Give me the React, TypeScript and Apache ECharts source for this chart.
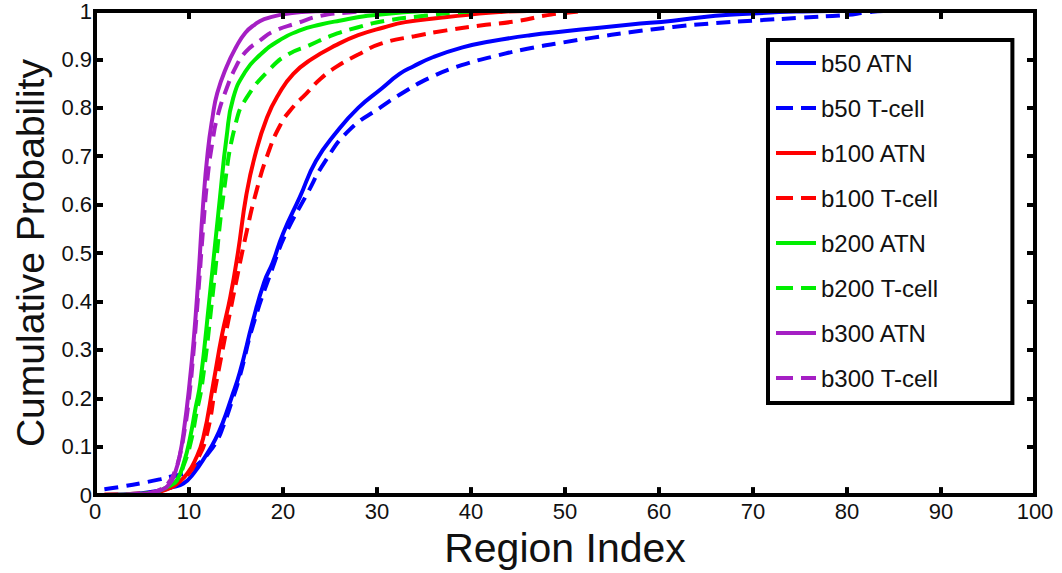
import React, { useEffect, useRef } from "react";
import * as echarts from "echarts";

const seriesNames = [
  "b50 ATN",
  "b50 T-cell",
  "b100 ATN",
  "b100 T-cell",
  "b200 ATN",
  "b200 T-cell",
  "b300 ATN",
  "b300 T-cell",
];

const b50ATN: [number, number][] = [
  [1, 0], [5, 0.004], [7, 0.01], [8, 0.015], [9.4, 0.024], [10.5, 0.045], [11.9, 0.085],
  [12.8, 0.115], [13.6, 0.15], [14.5, 0.2], [15.4, 0.253], [16.8, 0.36], [18, 0.44],
  [18.9, 0.48], [20, 0.54], [21.8, 0.616], [23.5, 0.69], [25.7, 0.75], [28, 0.8],
  [30.5, 0.84], [32.4, 0.87], [33.8, 0.885], [36, 0.905], [39.1, 0.925], [42, 0.937],
  [46.3, 0.95], [50, 0.958], [53.4, 0.965], [57, 0.972], [61.5, 0.98], [66, 0.99],
  [70, 0.995], [75, 0.999], [78, 1], [100, 1],
];

const b50Tcell: [number, number][] = [
  [1, 0.012], [3, 0.018], [5, 0.025], [7, 0.033], [8, 0.038], [9, 0.042], [10, 0.05],
  [11, 0.065], [12, 0.085], [13, 0.113], [13.6, 0.14], [14.5, 0.19], [15.4, 0.245],
  [16.8, 0.35], [18.9, 0.47], [20.3, 0.54], [22.5, 0.62], [24.5, 0.69], [27.1, 0.755],
  [30.3, 0.8], [32.4, 0.827], [35.6, 0.862], [39, 0.888], [42.8, 0.908], [46, 0.922],
  [49.8, 0.935], [53, 0.945], [56.9, 0.956], [61.5, 0.967], [66, 0.975], [70, 0.98],
  [75, 0.986], [80, 0.992], [82, 0.997], [84, 1], [100, 1],
];

const b100ATN: [number, number][] = [
  [1, 0], [6, 0.004], [8, 0.015], [9, 0.028], [9.8, 0.044], [10.6, 0.07], [11.5, 0.117],
  [12.6, 0.232], [13.5, 0.33], [14.4, 0.41], [15.2, 0.5], [16.1, 0.62], [17, 0.7],
  [18.3, 0.78], [19.6, 0.83], [21.1, 0.87], [23, 0.9], [25.7, 0.93], [28, 0.95],
  [30.7, 0.966], [33, 0.977], [36.7, 0.986], [40, 0.993], [43, 0.998], [46, 1], [100, 1],
];

const b100Tcell: [number, number][] = [
  [1, 0.001], [6, 0.005], [8, 0.015], [9, 0.028], [10, 0.045], [10.8, 0.07], [11.8, 0.117],
  [12.9, 0.232], [14.7, 0.41], [16.2, 0.55], [17.2, 0.63], [18.3, 0.7], [19.7, 0.764],
  [21, 0.8], [22.5, 0.83], [24, 0.86], [25.7, 0.885], [28, 0.91], [30.5, 0.933],
  [34, 0.948], [37.4, 0.96], [41, 0.97], [45.2, 0.98], [47.7, 0.99], [50, 0.996],
  [53, 1], [100, 1],
];

const b200ATN: [number, number][] = [
  [1, 0], [6, 0.004], [7, 0.01], [8, 0.02], [8.7, 0.03], [9.5, 0.07], [10.1, 0.117],
  [10.7, 0.18], [11.2, 0.232], [12.2, 0.41], [13.3, 0.616], [14, 0.74], [14.7, 0.82],
  [16, 0.875], [17.6, 0.91], [19.5, 0.938], [21.8, 0.96], [24, 0.972], [26, 0.98],
  [29, 0.99], [32, 0.996], [36, 1], [100, 1],
];

const b200Tcell: [number, number][] = [
  [1, 0], [6, 0.004], [7, 0.01], [8, 0.02], [8.7, 0.03], [9.5, 0.065], [10.2, 0.11],
  [10.8, 0.17], [11.4, 0.23], [12.5, 0.41], [13.8, 0.64], [15, 0.77], [16.1, 0.82],
  [18.6, 0.88], [20.5, 0.91], [22.9, 0.93], [25, 0.948], [27.9, 0.966], [31, 0.98],
  [35, 0.99], [38, 0.996], [42, 1], [100, 1],
];

const b300ATN: [number, number][] = [
  [1, 0], [5, 0.002], [7, 0.01], [8, 0.025], [8.5, 0.045], [9, 0.08], [9.5, 0.14],
  [10, 0.22], [10.5, 0.32], [11, 0.45], [11.5, 0.6], [12, 0.71], [12.5, 0.78],
  [13, 0.83], [14, 0.885], [15, 0.925], [16, 0.955], [17, 0.972], [18, 0.983],
  [20, 0.993], [22, 0.998], [25, 1], [100, 1],
];

const b300Tcell: [number, number][] = [
  [1, 0], [5, 0.003], [7, 0.012], [8, 0.03], [8.5, 0.05], [9, 0.08], [9.5, 0.13],
  [10, 0.2], [10.5, 0.3], [11, 0.42], [11.5, 0.55], [12, 0.66], [12.5, 0.73],
  [13, 0.78], [14, 0.84], [15, 0.885], [16, 0.915], [17.6, 0.94], [19, 0.958],
  [21.5, 0.975], [24, 0.99], [27, 0.997], [30, 1], [100, 1],
];

const seriesData = [b50ATN, b50Tcell, b100ATN, b100Tcell, b200ATN, b200Tcell, b300ATN, b300Tcell];
const seriesColors = ["#0000ff", "#0000ff", "#ff0000", "#ff0000", "#00ee00", "#00ee00", "#a51fc4", "#a51fc4"];
const seriesDashed = [false, true, false, true, false, true, false, true];

const xTicks = [0, 10, 20, 30, 40, 50, 60, 70, 80, 90, 100];
const yTicks = ["0", "0.1", "0.2", "0.3", "0.4", "0.5", "0.6", "0.7", "0.8", "0.9", "1"];

const FONT = "'Liberation Sans', Arial, sans-serif";
const SOLID_ICON = "path://M0,0H40V4H0Z";
const DASH_ICON = "path://M0,0H17V4H0Z M25,0H40V4H25Z";

const mkLine = () => ({ show: false, onZero: false });
const mkTick = () => ({ show: true, inside: true, length: 8, lineStyle: { color: "#000", width: 4 } });

export default function App() {
  const ref = useRef<HTMLDivElement>(null);

  useEffect(() => {
    if (!ref.current) return;
    const chart = echarts.init(ref.current, null, { renderer: "svg" });

    chart.setOption({
      animation: false,
      backgroundColor: "#fff",
      textStyle: { fontFamily: FONT },
      grid: {
        left: 95,
        top: 10,
        right: 27,
        bottom: 68,
        containLabel: false,
        show: true,
        z: 10,
        borderColor: "#000",
        borderWidth: 4,
        backgroundColor: "transparent",
      },
      legend: {
        orient: "vertical",
        left: 768,
        top: 40,
        z: 12,
        data: seriesNames.map((name, i) => ({
          name,
          icon: seriesDashed[i] ? DASH_ICON : SOLID_ICON,
          itemStyle: { color: seriesColors[i] },
        })),
        itemWidth: 40,
        itemHeight: 4,
        itemGap: 21,
        itemTextGap: 4,
        padding: [11, 74, 13, 8],
        borderColor: "#000",
        borderWidth: 4,
        backgroundColor: "#fff",
        textStyle: { fontSize: 24, color: "#111", fontFamily: FONT, lineHeight: 24 },
      },
      xAxis: [
        {
          type: "value",
          position: "bottom",
          min: 0,
          max: 100,
          interval: 10,
          z: 10,
          axisLine: mkLine(),
          axisTick: mkTick(),
          splitLine: { show: false },
          axisLabel: {
            fontSize: 22,
            color: "#111",
            margin: 5,
            fontFamily: FONT,
            formatter: (v: number) => String(xTicks[Math.round(v / 10)] ?? v),
          },
          name: "Region Index",
          nameLocation: "middle",
          nameGap: 28,
          nameTextStyle: { fontSize: 41, color: "#111", fontFamily: FONT },
        },
        {
          type: "value",
          position: "top",
          min: 0,
          max: 100,
          interval: 10,
          z: 10,
          axisLine: mkLine(),
          axisTick: mkTick(),
          splitLine: { show: false },
          axisLabel: { show: false },
        },
      ],
      yAxis: [
        {
          type: "value",
          position: "left",
          min: 0,
          max: 1,
          interval: 0.1,
          z: 10,
          axisLine: mkLine(),
          axisTick: mkTick(),
          splitLine: { show: false },
          axisLabel: {
            fontSize: 22,
            color: "#111",
            margin: 3,
            fontFamily: FONT,
            formatter: (v: number) => yTicks[Math.round(v * 10)] ?? String(v),
          },
          name: "Cumulative Probability",
          nameLocation: "middle",
          nameGap: 45,
          nameTextStyle: { fontSize: 39, color: "#111", fontFamily: FONT },
        },
        {
          type: "value",
          position: "right",
          min: 0,
          max: 1,
          interval: 0.1,
          z: 10,
          axisLine: mkLine(),
          axisTick: mkTick(),
          splitLine: { show: false },
          axisLabel: { show: false },
        },
      ],
      series: seriesNames.map((name, i) => ({
        name,
        type: "line",
        xAxisIndex: 0,
        yAxisIndex: 0,
        data: seriesData[i],
        symbol: "none",
        smooth: 0.5,
        z: 2,
        color: seriesColors[i],
        lineStyle: {
          color: seriesColors[i],
          width: 4,
          type: seriesDashed[i] ? [14, 8] : "solid",
        },
      })),
    });

    return () => chart.dispose();
  }, []);

  return (
    <div
      ref={ref}
      style={{ position: "fixed", left: 0, top: 0, width: 1062, height: 573, background: "#fff" }}
    />
  );
}
